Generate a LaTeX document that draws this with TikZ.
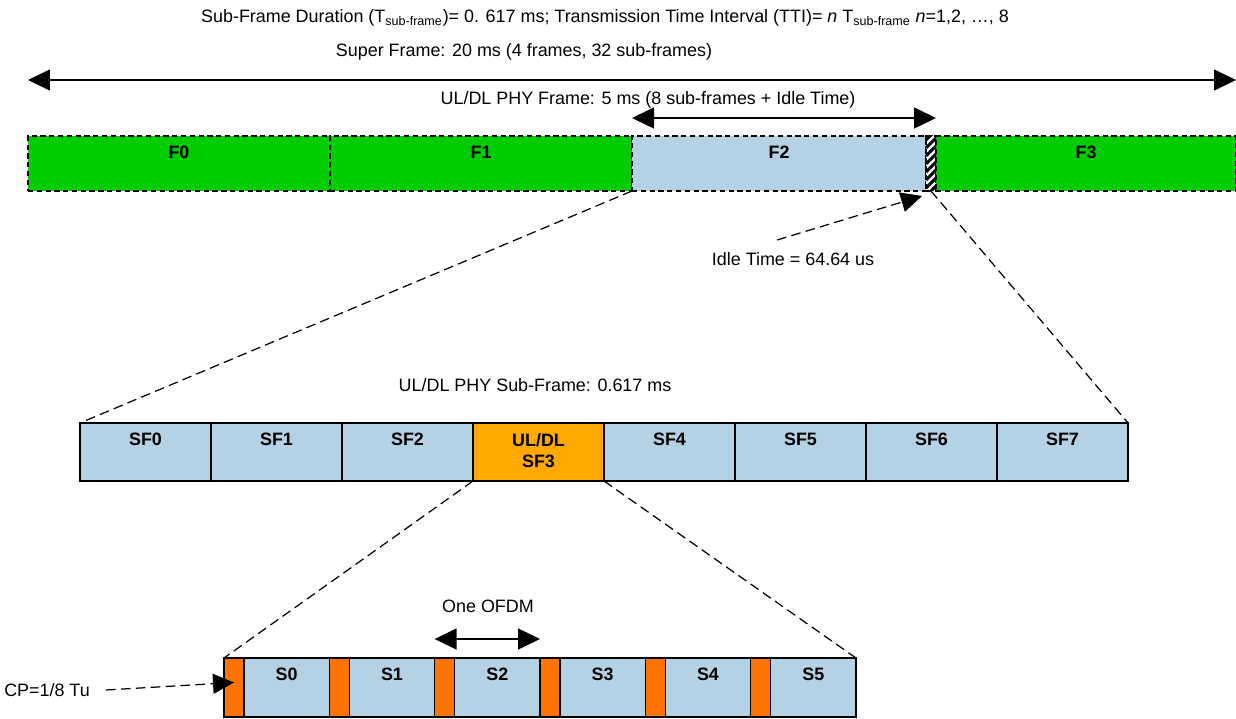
\documentclass[tikz,border=0pt]{standalone}
\usepackage{fontspec}
\setmainfont{Liberation Sans}
\usetikzlibrary{arrows.meta,positioning,calc}

\definecolor{framegreen}{RGB}{0,204,0}
\definecolor{subblue}{RGB}{180,210,228}
\definecolor{slotorange}{RGB}{255,168,0}
\definecolor{cporange}{RGB}{255,115,0}

\newcommand\diagfont{\fontsize{10.2}{12.2}\selectfont}
\newcommand\pxl{0.02cm}

\tikzset{
  box/.style={draw, line width=0.9pt, inner sep=0pt, outer sep=0pt, anchor=north west},
  frm/.style={box, densely dashed, line width=0.7pt, minimum height=55*\pxl, minimum width=#1*\pxl},
  sfbox/.style={box, fill=subblue, minimum height=58*\pxl, minimum width=131*\pxl},
  cpbox/.style={box, fill=cporange, minimum height=59*\pxl, minimum width=20*\pxl},
  symbox/.style={box, fill=subblue, minimum height=59*\pxl, minimum width=85.33*\pxl},
  lbl/.style={font=\diagfont\bfseries, anchor=north, inner sep=0pt, yshift=-0.2cm},
  spanarrow/.style={line width=0.9pt, {Triangle[length=0.44cm,width=0.42cm]}-{Triangle[length=0.44cm,width=0.42cm]}},
  zoomline/.style={dash pattern=on 5.5pt off 3pt, line width=0.7pt},
  pointer/.style={zoomline, -{Triangle[length=0.42cm,width=0.4cm]}},
}

\begin{document}
\begin{tikzpicture}[x=0.02cm, y=-0.02cm, every node/.style={font=\diagfont}]
	\useasboundingbox (0,0) rectangle (1236,719);

	% Texts on top
	\node (title) at (605,18) {Sub-Frame Duration (T\textsubscript{sub-frame})= 0. 617 ms; Transmission Time Interval (TTI)= \textit{n} T\textsubscript{sub-frame} \textit{n}=1,2, …, 8};
	\node (supertxt) at (524,52) {Super Frame: 20 ms (4 frames, 32 sub-frames)};
	\node (phytxt) at (648,100) {UL/DL PHY Frame: 5 ms (8 sub-frames + Idle Time)};

	% Super frame: four frames and the idle time
	\node[frm=302, fill=framegreen, label={[lbl]north:F0}] (f0) at (28,136) {};
	\node[frm=302, fill=framegreen, label={[lbl]north:F1}, right=0pt of f0] (f1) {};
	\node[frm=294, fill=subblue, label={[lbl]north:F2}, right=0pt of f1] (f2) {};
	\node[frm=10, fill=white, right=0pt of f2] (idle) {};
	\node[frm=300, fill=framegreen, label={[lbl]north:F3}, right=0pt of idle] (f3) {};
	\begin{scope}
		\clip (idle.north west) rectangle (idle.south east);
		\foreach \k in {0,...,9} {
			\draw[line width=0.06cm] (926,140+8*\k) -- ++(12,-12);
		}
	\end{scope}

	\draw[spanarrow] ([yshift=1.12cm]f0.north west) -- ([yshift=1.12cm]f3.north east);
	\draw[spanarrow] ([yshift=0.36cm]f2.north west) -- ([yshift=0.36cm]idle.north east);

	% Idle time
	\node (idletxt) at (793,259) {Idle Time = 64.64 us};
	\coordinate (idletail) at (777,240);
	\draw[pointer] (idletail) -- ([xshift=-0.08cm,yshift=-0.1cm]idle.south west);

	% Sub-frames of F2
	\node (subtxt) at (535,385) {UL/DL PHY Sub-Frame: 0.617 ms};
	\foreach \i in {0,1,2,4,5,6,7} {
		\node[sfbox, label={[lbl]north:SF\i}] (sf\i) at (80+131*\i,423) {};
	}
	\node[sfbox, fill=slotorange, label={[lbl,align=center]north:UL/DL\\SF3}] (sf3) at (473,423) {};

	\draw[zoomline] (f2.south west) -- (sf0.north west);
	\draw[zoomline] (idle.south) -- (sf7.north east);

	% OFDM symbols of SF3, each with its cyclic prefix
	\foreach \i in {0,...,5} {
		\node[cpbox] (cp\i) at (224+105.33*\i,658) {};
		\node[symbox, label={[lbl]north:S\i}, right=0pt of cp\i] (s\i) {};
	}

	\draw[zoomline] (sf3.south west) -- (cp0.north west);
	\draw[zoomline] (sf3.south east) -- (s5.north east);

	\node (ofdmtxt) at (488,606) {One OFDM};
	\draw[spanarrow] ([yshift=0.38cm]cp2.north west) -- ([yshift=0.38cm]s2.north east);

	\node (cptxt) at (47,690) {CP=1/8 Tu};
	\draw[pointer] ([xshift=0.2cm]cptxt.east) -- ([yshift=0.1cm]cp0.center);
\end{tikzpicture}
\end{document}
